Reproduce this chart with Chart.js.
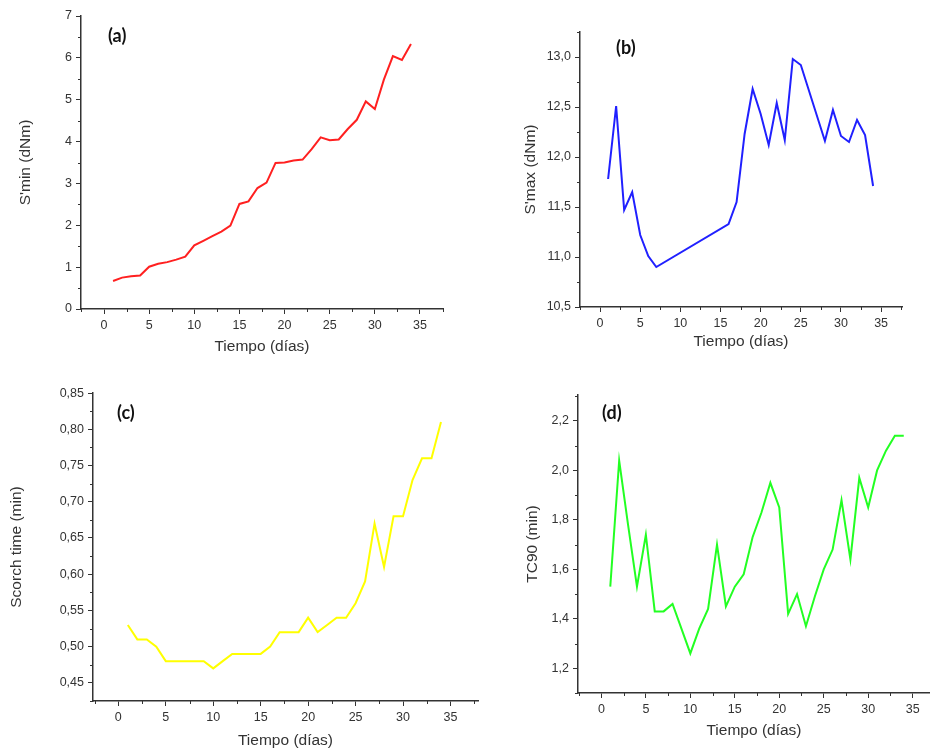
<!DOCTYPE html>
<html lang="es">

<head>
    <meta charset="UTF-8">
    <meta name="viewport" content="width=device-width, initial-scale=1.0">
    <script src="https://cdn.jsdelivr.net/npm/chart.js"></script>
    <title>Curado vs tiempo</title>
    <style>
        body { margin: 0; background: #fff; width: 930px; height: 753px; overflow: hidden; position: relative; }
        canvas { position: absolute; }
    </style>
</head>

<body>
    <canvas id="chartA" width="465" height="370" style="left:0;top:0"></canvas>
    <canvas id="chartB" width="465" height="370" style="left:465px;top:0"></canvas>
    <canvas id="chartC" width="480" height="383" style="left:0;top:370px"></canvas>
    <canvas id="chartD" width="450" height="383" style="left:480px;top:370px"></canvas>
    <script>
        // dias de envejecimiento
        var dias = [1, 2, 3, 4, 5, 6, 7, 8, 9, 10, 11, 12, 13, 14, 15, 16, 17,
            18, 19, 20, 21, 22, 23, 24, 25, 26, 27, 28, 29, 30, 31, 32, 33, 34]
        // S'max solo tiene medidas en estos dias
        var diasMax = [1, 2, 3, 4, 5, 6, 7, 16, 17, 18, 19, 20, 21, 22, 23, 24, 25,
            28, 29, 30, 31, 32, 33, 34]

        var sMin = [0.67, 0.75, 0.78, 0.80, 1.01, 1.08, 1.12, 1.18, 1.25, 1.52, 1.63, 1.74,
            1.85, 1.99, 2.51, 2.57, 2.89, 3.02, 3.49, 3.50, 3.55, 3.57, 3.82, 4.10, 4.03,
            4.05, 4.30, 4.52, 4.96, 4.78, 5.48, 6.04, 5.95, 6.33]
        var sMax = [11.78, 12.51, 11.47, 11.65, 11.22, 11.01, 10.90, 11.33, 11.55, 12.23,
            12.68, 12.43, 12.12, 12.54, 12.17, 12.98, 12.92, 12.16, 12.47, 12.21, 12.15,
            12.37, 12.22, 11.71]
        var scorch = [0.53, 0.51, 0.51, 0.50, 0.48, 0.48, 0.48, 0.48, 0.48, 0.47, 0.48, 0.49,
            0.49, 0.49, 0.49, 0.50, 0.52, 0.52, 0.52, 0.54, 0.52, 0.53, 0.54, 0.54, 0.56,
            0.59, 0.67, 0.61, 0.68, 0.68, 0.73, 0.76, 0.76, 0.81]
        var tc90 = [1.53, 2.04, 1.78, 1.53, 1.74, 1.43, 1.43, 1.46, 1.36, 1.26, 1.36, 1.44,
            1.70, 1.45, 1.53, 1.58, 1.73, 1.83, 1.95, 1.85, 1.42, 1.50, 1.37, 1.49, 1.60,
            1.68, 1.88, 1.64, 1.97, 1.85, 2.00, 2.08, 2.14, 2.14]

        var xTicks = [0, 5, 10, 15, 20, 25, 30, 35]
        var ejeX = 'Tiempo (días)'
        var colorEje = '#333'
        var fuente = "'Liberation Sans', Arial, sans-serif"

        Chart.defaults.font.family = fuente
        Chart.defaults.color = colorEje
        Chart.defaults.animation = false

        function puntos(xs, ys) {
            return xs.map(function (x, i) { return { x: x, y: ys[i] } })
        }

        // marcas menores a mitad de paso, como en Origin
        var marcasMenores = {
            id: 'marcasMenores',
            afterDraw: function (chart, args, opts) {
                var ctx = chart.ctx
                ctx.save()
                ctx.strokeStyle = colorEje
                ctx.lineWidth = 1
                ctx.beginPath()
                var sx = chart.scales.x
                for (var k = Math.ceil(sx.min / opts.x); k * opts.x <= sx.max; k++) {
                    if (k % 2 === 0) continue
                    var px = Math.round(sx.getPixelForValue(k * opts.x)) + 0.5
                    ctx.moveTo(px, sx.top)
                    ctx.lineTo(px, sx.top + 3)
                }
                var sy = chart.scales.y
                for (var j = Math.ceil(sy.min / opts.y - 1e-6); j * opts.y <= sy.max + 1e-9; j++) {
                    if (j % 2 === 0) continue
                    var py = Math.round(sy.getPixelForValue(j * opts.y)) + 0.5
                    ctx.moveTo(sy.right, py)
                    ctx.lineTo(sy.right - 3, py)
                }
                ctx.stroke()
                ctx.restore()
            }
        }

        // rótulo (a), (b)... dentro del área del gráfico
        var rotulo = {
            id: 'rotulo',
            afterDraw: function (chart, args, opts) {
                var ctx = chart.ctx
                ctx.save()
                ctx.font = "bold 18px Lato, 'Open Sans', sans-serif"
                ctx.fillStyle = '#111'
                ctx.textBaseline = 'middle'
                ctx.fillText(opts.text, chart.chartArea.left + opts.dx, chart.chartArea.top + opts.dy)
                ctx.restore()
            }
        }

        function grafico(id, cfg) {
            return new Chart(document.getElementById(id), {
                type: 'line',
                data: {
                    datasets: [{
                        data: cfg.data,
                        borderColor: cfg.color,
                        borderWidth: 2,
                        pointRadius: 0,
                        tension: 0,
                        fill: false
                    }]
                },
                options: {
                    responsive: false,
                    layout: { padding: { left: 0, top: cfg.top, right: cfg.right, bottom: 0 } },
                    plugins: {
                        legend: { display: false },
                        tooltip: { enabled: false },
                        marcasMenores: { x: 2.5, y: cfg.yStep / 2 },
                        rotulo: { text: cfg.label, dx: cfg.labelDx, dy: cfg.labelDy }
                    },
                    scales: {
                        x: {
                            type: 'linear',
                            min: cfg.xMin,
                            max: cfg.xMax,
                            afterFit: function (s) { s.height = cfg.xHeight },
                            afterBuildTicks: function (s) {
                                s.ticks = xTicks.map(function (v) { return { value: v } })
                            },
                            border: { color: colorEje, width: 1.5 },
                            grid: { drawOnChartArea: false, tickLength: 5, tickColor: colorEje, tickWidth: 1 },
                            ticks: {
                                autoSkip: false, maxRotation: 0, padding: 4,
                                font: { size: 12.5 }, color: colorEje
                            },
                            title: {
                                display: true, text: ejeX, color: colorEje,
                                font: { size: 15.5 }, padding: { top: 0, bottom: cfg.xTitlePad }
                            }
                        },
                        y: {
                            min: cfg.yMin,
                            max: cfg.yMax,
                            afterFit: function (s) { s.width = cfg.yWidth },
                            border: { color: colorEje, width: 1.5 },
                            grid: { drawOnChartArea: false, tickLength: 5, tickColor: colorEje, tickWidth: 1 },
                            ticks: {
                                stepSize: cfg.yStep, includeBounds: false, padding: 4,
                                font: { size: 12.5 }, color: colorEje,
                                callback: function (v) { return v.toFixed(cfg.dec).replace('.', ',') }
                            },
                            title: {
                                display: true, text: cfg.yTitle, color: colorEje,
                                font: { size: 15.5 }, padding: { top: cfg.yTitlePad, bottom: 0 }
                            }
                        }
                    }
                },
                plugins: [marcasMenores, rotulo]
            })
        }

        grafico('chartA', {
            data: puntos(dias, sMin), color: '#ff2020', label: '(a)', labelDx: 27, labelDy: 20,
            xMin: -2.55, xMax: 37.55, yMin: 0, yMax: 7, yStep: 1, dec: 0,
            yTitle: "S'min (dNm)", top: 16, right: 22, yWidth: 81, xHeight: 61, yTitlePad: 16, xTitlePad: 14
        })
        grafico('chartB', {
            data: puntos(diasMax, sMax), color: '#2020ff', label: '(b)', labelDx: 36, labelDy: 16,
            xMin: -2.5, xMax: 37.6, yMin: 10.5, yMax: 13.25, yStep: 0.5, dec: 1,
            yTitle: "S'max (dNm)", top: 32, right: 28, yWidth: 115, xHeight: 63, yTitlePad: 56, xTitlePad: 19
        })
        grafico('chartC', {
            data: puntos(dias, scorch), color: '#ffff00', label: '(c)', labelDx: 24, labelDy: 20,
            xMin: -2.67, xMax: 37.9, yMin: 0.425, yMax: 0.8501, yStep: 0.05, dec: 2,
            yTitle: 'Scorch time (min)', top: 23, right: 2, yWidth: 93, xHeight: 52, yTitlePad: 7, xTitlePad: 3
        })
        grafico('chartD', {
            data: puntos(dias, tc90), color: '#22ff22', label: '(d)', labelDx: 24, labelDy: 18,
            xMin: -2.63, xMax: 36.95, yMin: 1.1, yMax: 2.305, yStep: 0.2, dec: 1,
            yTitle: 'TC90 (min)', top: 25, right: 0, yWidth: 98, xHeight: 60, yTitlePad: 43, xTitlePad: 13
        })
    </script>
</body>

</html>
